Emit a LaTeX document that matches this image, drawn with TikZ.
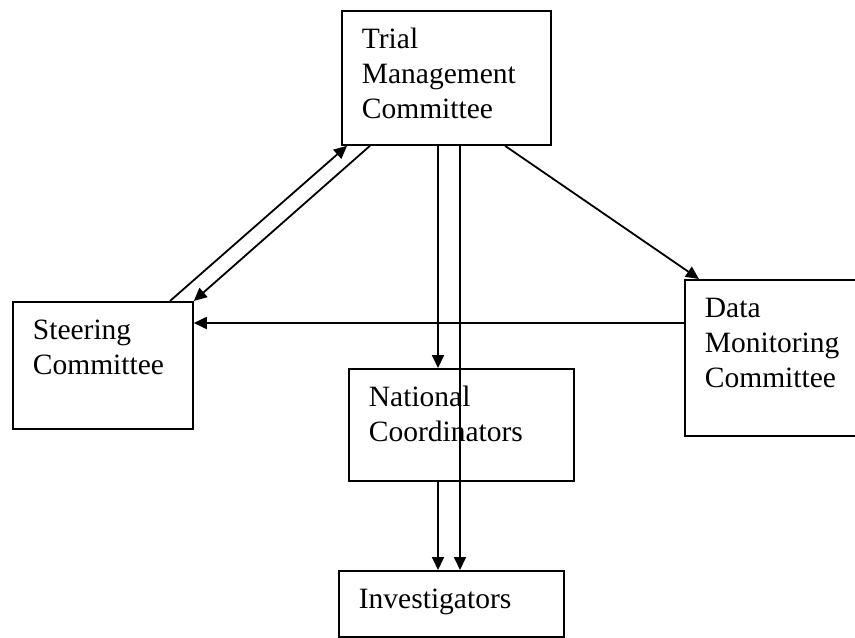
\documentclass[tikz,border=0pt]{standalone}
\usepackage{fontspec}
\setmainfont{Liberation Serif}
\usetikzlibrary{arrows.meta}
\tikzset{
  box/.style={draw, line width=0.9pt, anchor=north west, align=left,
    inner xsep=10pt, inner ysep=0pt, text height=19pt,
    font=\fontsize{14.75pt}{17.5pt}\selectfont},
  link/.style={line width=0.9pt, -{Triangle[length=6.5pt,width=6pt]}},
}
\begin{document}
\begin{tikzpicture}[x=0.5pt, y=-0.5pt]
  \useasboundingbox (0,0) rectangle (855,637);

  % committees
  \node[box, text width=84.5pt, text depth=48pt] (trial) at (341,10) {Trial\\Management\\Committee};
  \node[box, text width=70pt, text depth=44.5pt] (steer) at (12,301) {Steering\\Committee};
  \node[box, text width=92.5pt, text depth=37pt] (natl) at (348,368) {National\\Coordinators};
  \node[box, text width=92.5pt, text depth=14pt] (invest) at (338,570) {Investigators};
  \node[box, text width=70pt, text depth=59pt] (data) at (684,279) {Data\\Monitoring\\Committee};

  % down to the coordinators and investigators
  \draw[link] ([xshift=48.5pt]trial.south west) -- ([xshift=45pt]natl.north west);
  \draw[link] ([xshift=59.5pt]trial.south west) -- ([xshift=61pt]invest.north west);
  \draw[link] ([xshift=45pt]natl.south west) -- ([xshift=50pt]invest.north west);

  % steering and data monitoring
  \draw[link] ([xshift=79pt]steer.north west) -- ([xshift=3pt]trial.south west);
  \draw[link] ([xshift=14.5pt]trial.south west) -- (steer.north east);
  \draw[link] ([xshift=82pt]trial.south west) -- ([xshift=7.5pt]data.north west);
  \draw[link] ([yshift=-22pt]data.north west) -- ([yshift=-11pt]steer.north east);
\end{tikzpicture}
\end{document}
